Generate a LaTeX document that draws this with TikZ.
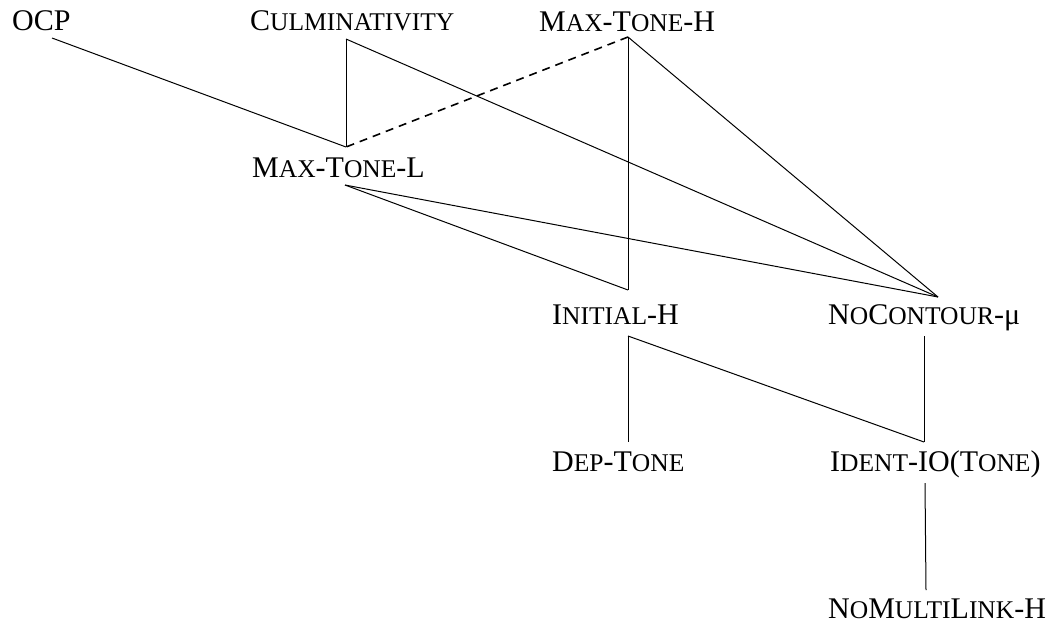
\documentclass[tikz,border=0pt]{standalone}
\usepackage{fontspec}
\setmainfont{Liberation Serif}
\usepackage{tikz}
\usetikzlibrary{positioning}

% fake small caps for constraint names
\newcommand{\smc}[1]{{\fontsize{25.5}{30}\selectfont #1}}

\tikzset{
    cname/.style={font=\fontsize{30}{36}\selectfont, inner sep=0pt, anchor=base west},
    rank/.style={line width=1pt},
    tied/.style={line width=1.6pt, dash pattern=on 8pt off 6pt}
}

\begin{document}
\begin{tikzpicture}[x=1pt, y=-1pt]
    \useasboundingbox (0,0) rectangle (1055,625);

    % Constraint names
    \node[cname] (ocp) at (12,30) {OCP};
    \node[cname] (culm) at (250,30) {C\smc{ULMINATIVITY}};
    \node[cname] (mth) at (539,31) {M\smc{AX}-T\smc{ONE}-H};
    \node[cname] (mtl) at (252,177) {M\smc{AX}-T\smc{ONE}-L};
    \node[cname] (inih) at (552,324) {I\smc{NITIAL}-H};
    \node[cname] (noc) at (828,324) {N\smc{O}C\smc{ONTOUR}-μ};
    \node[cname] (dep) at (552,471) {D\smc{EP}-T\smc{ONE}};
    \node[cname] (ident) at (830,471) {I\smc{DENT}-IO(T\smc{ONE})};
    \node[cname] (noml) at (828,618) {N\smc{O}M\smc{ULTI}L\smc{INK}-H};

    % Attachment points
    \coordinate (ocp-b) at (52,38);
    \coordinate (culm-b) at (346,39);
    \coordinate (mth-b) at (628,37);
    \coordinate (mtl-t) at (346,147);
    \coordinate (mtl-b) at (345,185);
    \coordinate (inih-t) at (628,290);
    \coordinate (inih-b) at (628,336);
    \coordinate (noc-t) at (938,297);
    \coordinate (noc-b) at (924,336);
    \coordinate (dep-t) at (628,442);
    \coordinate (ident-t) at (924,442);
    \coordinate (ident-b) at (925,483);
    \coordinate (noml-t) at (926,590);

    % Rankings
    \draw[rank] (ocp-b) -- (mtl-t);
    \draw[rank] (culm-b) -- (mtl-t);
    \draw[rank] (culm-b) -- (noc-t);
    \draw[tied] (mth-b) -- (mtl-t);
    \draw[rank] (mth-b) -- (inih-t);
    \draw[rank] (mth-b) -- (noc-t);
    \draw[rank] (mtl-b) -- (inih-t);
    \draw[rank] (mtl-b) -- (noc-t);
    \draw[rank] (inih-b) -- (dep-t);
    \draw[rank] (inih-b) -- (ident-t);
    \draw[rank] (noc-b) -- (ident-t);
    \draw[rank] (ident-b) -- (noml-t);
\end{tikzpicture}
\end{document}
